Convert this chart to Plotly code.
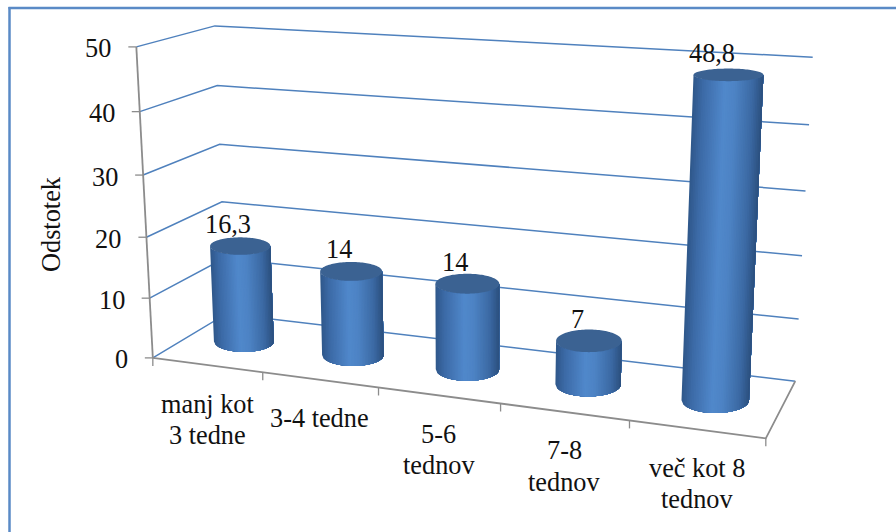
import numpy as np
import plotly.graph_objects as go

# Survey data: share of respondents per duration class
categories = [["manj kot", "3 tedne"], ["3-4 tedne"], ["5-6", "tednov"], ["7-8", "tednov"], ["več kot 8", "tednov"]]
values = [16.3, 14, 14, 7, 48.8]
value_labels = ["16,3", "14", "14", "7", "48,8"]
value_ticks = [0, 10, 20, 30, 40, 50]
axis_title = "Odstotek"

VALUE_MAX = 50
FONT = "Liberation Serif"
GRID_BLUE = "#4f81bd"
AXIS_GREY = "#8c8c8c"
FRAME_BLUE = "#5a8ac6"
CAP_COLOR = "#3b6292"
SHADE_STOPS = [(0.0, "#2f578a"), (0.14, "#3c6aa6"), (0.45, "#5088cb"), (0.6, "#4d83c4"),
               (0.85, "#3b69a3"), (1.0, "#2b4f7e")]
N_SHADES = 40

# Oblique view of the plot box: unit box corners (category, depth, value) and where they land on the page
VIEW_POINTS = [
    (0, 0, 0, 153.3, 357.5), (0, 0, 0.2, 150, 297.7), (0, 0, 0.4, 146.7, 236.7),
    (0, 0, 0.6, 143.3, 175), (0, 0, 0.8, 139.3, 111.3), (0, 0, 1, 136, 46.7),
    (0, 1, 0, 226, 314), (0, 1, 0.2, 224, 258), (0, 1, 0.4, 221.7, 201.7),
    (0, 1, 0.6, 220, 144.3), (0, 1, 0.8, 217.3, 86), (0, 1, 1, 215, 26),
    (1, 1, 0, 795, 380.3), (1, 1, 0.2, 799, 319), (1, 1, 0.4, 803, 256),
    (1, 1, 0.6, 805, 190), (1, 1, 0.8, 809, 125.3), (1, 1, 1, 812.7, 57.7),
    (1, 0, 0, 766, 438),
    (0.2, 0, 0, 263.3, 373), (0.4, 0, 0, 378.3, 388), (0.6, 0, 0, 500, 405), (0.8, 0, 0, 629, 420),
]


def fit_view(points):
    rows, rhs = [], []
    for u, w, z, px, py in points:
        rows.append([u, w, z, 1, 0, 0, 0, 0, -px * u, -px * w, -px * z])
        rows.append([0, 0, 0, 0, u, w, z, 1, -py * u, -py * w, -py * z])
        rhs += [px, py]
    sol = np.linalg.lstsq(np.array(rows, float), np.array(rhs, float), rcond=None)[0]
    return np.append(sol, 1.0).reshape(3, 4)


VIEW = fit_view(VIEW_POINTS)


def project(u, w, z):
    u, w, z = np.broadcast_arrays(np.asarray(u, float), np.asarray(w, float), np.asarray(z, float))
    h = VIEW @ np.vstack([u.ravel(), w.ravel(), z.ravel(), np.ones(u.size)])
    return h[0] / h[2], h[1] / h[2]


def hex_rgb(c):
    return np.array([int(c[i:i + 2], 16) for i in (1, 3, 5)], float)


def shade(s):
    pos = [p for p, _ in SHADE_STOPS]
    cols = np.array([hex_rgb(c) for _, c in SHADE_STOPS])
    rgb = [np.interp(s, pos, cols[:, k]) for k in range(3)]
    return "#%02x%02x%02x" % tuple(int(round(v)) for v in rgb)


fig = go.Figure()


def add_line(xs, ys, color, width):
    fig.add_trace(go.Scatter(x=list(xs), y=list(ys), mode="lines", hoverinfo="skip",
                             line=dict(color=color, width=width)))


# Gridlines on the side wall and the back wall
for t in value_ticks:
    z = t / VALUE_MAX
    x, y = project([0, 0, 1], [0, 1, 1], [z, z, z])
    add_line(x, y, GRID_BLUE, 1.5)

# Floor edges, value axis and tick marks
x, y = project([0, 1, 1], [0, 0, 1], [0, 0, 0])
add_line(x, y, AXIS_GREY, 1.8)
x, y = project([0, 0], [0, 0], [0, 1])
add_line(x, y, AXIS_GREY, 1.8)
n = len(categories)
for k in range(n + 1):
    x, y = project(k / n, 0, 0)
    add_line([x[0], x[0]], [y[0], y[0] + 8], AXIS_GREY, 1.3)
for t in value_ticks:
    x, y = project(0, 0, t / VALUE_MAX)
    add_line([x[0] - 8, x[0]], [y[0], y[0]], AXIS_GREY, 1.3)

RADIUS_U, RADIUS_W, DEPTH_MID = 0.053, 0.23, 0.5


def disc(cu, z):
    """Centre and semi-axes of a cylinder's end disc, seen as a level ellipse."""
    lx, ly = project(cu - RADIUS_U, DEPTH_MID, z)
    rx, ry = project(cu + RADIUS_U, DEPTH_MID, z)
    _, fy = project(cu, DEPTH_MID - RADIUS_W, z)
    _, by = project(cu, DEPTH_MID + RADIUS_W, z)
    # the bars keep a steadier width across the chart than the box foreshortening implies
    half_width = 0.6 * (rx[0] - lx[0]) / 2 + 13
    return (lx[0] + rx[0]) / 2, (ly[0] + ry[0]) / 2, half_width, abs(fy[0] - by[0]) / 2


# Cylinders: the side is painted left to right, each shade running on to the right
# silhouette so the next one overlays it without seams; a darker cap goes on top
angles = np.linspace(0, 2 * np.pi, 121)
strips = {k: ([], []) for k in range(N_SHADES)}
caps_x, caps_y = [], []
for i, v in enumerate(values):
    cu, z = (i + 0.5) / n, v / VALUE_MAX
    tcx, tcy, ta, tb = disc(cu, z)
    bcx, bcy, ba, bb = disc(cu, 0)
    for k in range(N_SHADES):
        # positions are even across the visible width of the cylinder
        c = np.linspace(2 * k / N_SHADES - 1, 1, 40)
        root = np.sqrt(np.clip(1 - c ** 2, 0, 1))
        tx, ty = tcx + ta * c, tcy + tb * root
        bx, by = bcx + ba * c, bcy + bb * root
        strips[k][0].extend(list(tx) + list(bx[::-1]) + [tx[0], None])
        strips[k][1].extend(list(ty) + list(by[::-1]) + [ty[0], None])
    caps_x.extend(list(tcx + ta * np.cos(angles)) + [None])
    caps_y.extend(list(tcy + tb * np.sin(angles)) + [None])

for k, (sx, sy) in strips.items():
    fig.add_trace(go.Scatter(x=sx, y=sy, mode="none", fill="toself", fillcolor=shade((k + 0.5) / N_SHADES),
                             hoverinfo="skip"))
fig.add_trace(go.Scatter(x=caps_x, y=caps_y, mode="none", fill="toself", fillcolor=CAP_COLOR, hoverinfo="skip"))

annotations = []


def add_text(x, y, text, size=26.3, xanchor="center", angle=0):
    annotations.append(dict(x=x, y=y, xref="x", yref="y", text=text, showarrow=False, xanchor=xanchor,
                            yanchor="middle", textangle=angle, font=dict(family=FONT, size=size, color="#111111")))


for t in value_ticks:
    x, y = project(0, 0, t / VALUE_MAX)
    add_text(x[0] - 23, y[0] + 2, str(t), xanchor="right")

for i, lines in enumerate(categories):
    x, y = project((i + 0.5) / n, 0, 0)
    for j, line in enumerate(lines):
        add_text(x[0], y[0] + 39 + 31.5 * j, line)

# Value labels sit above the cap, drifting left with the height of the bar
for i, (v, label) in enumerate(zip(values, value_labels)):
    z = v / VALUE_MAX
    x, y = project((i + 0.5) / n, DEPTH_MID, z)
    add_text(x[0] - 11 - 6 * (z - 0.15), y[0] - 21.5, label)

add_text(51, 224, axis_title, angle=-90)

fig.update_layout(
    width=896, height=532, margin=dict(l=0, r=0, t=0, b=0), showlegend=False,
    paper_bgcolor="white", plot_bgcolor="white", annotations=annotations,
    xaxis=dict(range=[0, 896], visible=False, fixedrange=True),
    yaxis=dict(range=[532, 0], visible=False, fixedrange=True),
    shapes=[
        dict(type="line", xref="x", yref="y", x0=9.5, x1=9.5, y0=7, y1=532, line=dict(color=FRAME_BLUE, width=2.5)),
        dict(type="line", xref="x", yref="y", x0=8.5, x1=896, y0=8, y1=8, line=dict(color=FRAME_BLUE, width=2.5)),
    ],
)
fig.write_html("out.html")
